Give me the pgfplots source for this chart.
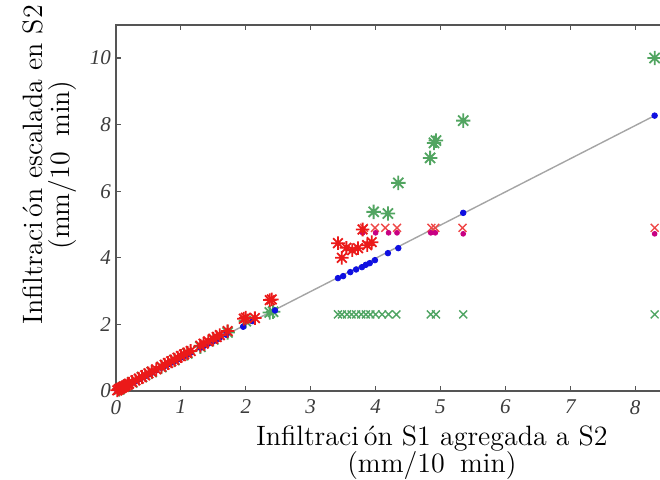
\documentclass[border=0pt]{standalone}
\usepackage{fontspec}
\usepackage{pgfplots}
\pgfplotsset{compat=1.18}
\newfontfamily\tickfont{Liberation Serif}
\definecolor{axgray}{RGB}{85,85,85}
\definecolor{tgray}{RGB}{60,60,60}
\definecolor{lgray}{RGB}{165,165,165}
\definecolor{mblue}{RGB}{15,15,225}
\definecolor{mgreen}{RGB}{25,135,45}
\definecolor{lgreen}{RGB}{80,165,100}
\definecolor{mred}{RGB}{235,25,25}
\definecolor{mmag}{RGB}{200,0,130}
\newcommand\lblfontx{\fontsize{14}{13.4}\selectfont\lineskiplimit=-20pt\relax}
\newcommand\lblfonty{\fontsize{14}{13.4}\selectfont\lineskiplimit=-20pt\relax}
\pgfdeclareplotmark{ast8}{%
  \pgfpathmoveto{\pgfqpoint{-\pgfplotmarksize}{0pt}}\pgfpathlineto{\pgfqpoint{\pgfplotmarksize}{0pt}}%
  \pgfpathmoveto{\pgfqpoint{0pt}{-\pgfplotmarksize}}\pgfpathlineto{\pgfqpoint{0pt}{\pgfplotmarksize}}%
  \pgfpathmoveto{\pgfqpoint{-.707\pgfplotmarksize}{-.707\pgfplotmarksize}}\pgfpathlineto{\pgfqpoint{.707\pgfplotmarksize}{.707\pgfplotmarksize}}%
  \pgfpathmoveto{\pgfqpoint{-.707\pgfplotmarksize}{.707\pgfplotmarksize}}\pgfpathlineto{\pgfqpoint{.707\pgfplotmarksize}{-.707\pgfplotmarksize}}%
  \pgfusepathqstroke}

\pgfplotstableread{
x y
0.02 0.02
0.05 0.05
0.08 0.08
0.10 0.10
0.12 0.12
0.15 0.15
0.18 0.18
0.20 0.20
0.25 0.25
0.30 0.30
0.35 0.35
0.40 0.40
0.45 0.45
0.50 0.50
0.55 0.55
0.62 0.62
0.70 0.70
0.75 0.75
0.80 0.80
0.85 0.85
0.90 0.90
0.95 0.95
1.00 1.00
1.05 1.05
1.10 1.10
1.15 1.15
1.30 1.30
1.35 1.35
1.42 1.42
1.50 1.50
1.55 1.55
1.60 1.60
1.70 1.69
1.96 1.93
2.10 2.10
2.45 2.42
3.42 3.39
3.50 3.45
3.61 3.57
3.70 3.65
3.79 3.72
3.85 3.79
3.91 3.84
3.99 3.93
4.19 4.14
4.35 4.29
5.35 5.35
8.30 8.27
}\tblblue

\pgfplotstableread{
x y
0.05 0.05
0.12 0.13
0.25 0.26
0.40 0.42
0.55 0.57
0.70 0.72
0.90 0.93
1.10 1.13
1.30 1.33
1.50 1.55
1.72 1.76
2.00 2.10
2.37 2.36
2.42 2.38
3.97 5.38
4.19 5.33
4.35 6.25
4.84 7.00
4.90 7.45
4.93 7.52
5.35 8.12
8.30 10.00
}\tblgstar

\pgfplotstableread{
x y
3.42 2.30
3.48 2.30
3.56 2.30
3.63 2.30
3.70 2.30
3.78 2.30
3.85 2.30
3.92 2.30
4.00 2.30
4.10 2.30
4.20 2.30
4.32 2.30
4.85 2.30
4.93 2.30
5.35 2.30
8.30 2.30
}\tblgx

\pgfplotstableread{
x y
3.80 4.75
4.00 4.75
4.20 4.75
4.33 4.75
4.85 4.75
4.92 4.75
5.35 4.72
8.30 4.72
}\tblmag

\pgfplotstableread{
x y
3.82 4.90
3.99 4.90
4.15 4.90
4.33 4.90
4.86 4.90
4.92 4.90
5.34 4.90
8.30 4.90
}\tblrx

\pgfplotstableread{
x y
0.02 0.02
0.04 0.05
0.06 0.07
0.08 0.09
0.10 0.11
0.12 0.13
0.15 0.16
0.18 0.19
0.20 0.22
0.25 0.27
0.30 0.32
0.35 0.37
0.40 0.42
0.45 0.47
0.50 0.53
0.55 0.58
0.62 0.65
0.70 0.73
0.75 0.79
0.80 0.84
0.85 0.89
0.90 0.94
0.95 1.00
1.00 1.05
1.05 1.10
1.10 1.15
1.15 1.20
1.30 1.36
1.35 1.42
1.42 1.49
1.50 1.57
1.55 1.62
1.60 1.68
1.72 1.80
1.97 2.17
2.00 2.20
2.14 2.19
2.37 2.73
2.40 2.75
3.42 4.44
3.48 4.00
3.55 4.30
3.64 4.23
3.73 4.29
3.80 4.85
3.87 4.38
3.94 4.47
}\tblrstar

\begin{document}
\begin{tikzpicture}
\path[use as bounding box] (-58pt,-44pt) rectangle (272pt,195.5pt);
\clip (-58pt,-44pt) rectangle (272pt,195.5pt);
\begin{axis}[
  at={(0pt,0pt)}, anchor=south west,
  scale only axis, width=279.07pt, height=183.15pt,
  xmin=0, xmax=8.6, ymin=0, ymax=11,
  xtick={0,1,...,8}, ytick={0,2,...,10},
  tick align=inside, xtick pos=both, ytick pos=left,
  major tick length=2.5pt,
  axis line style={draw=axgray, line width=0.8pt},
  every tick/.style={draw=axgray, line width=0.6pt},
  /pgf/number format/assume math mode=true,
  ticklabel style={font=\tickfont\itshape\fontsize{10.5}{10.5}\selectfont, text=tgray},
  xticklabel style={yshift=-1pt},
  yticklabel style={xshift=1pt},
  clip=false,
  xlabel={Infiltraci\kern2.5pt ón S1 agregada a S2\\(mm/10\hspace{0.55em}min)},
  ylabel={Infiltraci\kern2.5pt ón escalada en S2\\(mm/10\hspace{0.55em}min)},
  xlabel style={at={(axis description cs:0.566,-0.077)}, anchor=north, align=center, font=\lblfontx},
  ylabel style={at={(axis description cs:-0.1183,0.617)}, anchor=center, align=center, font=\lblfonty},
]
\addplot[lgray, line width=0.7pt] coordinates {(0,0) (8.3,8.27)};
\addplot[only marks, mark=x, mark size=2.8pt, draw=lgreen, line width=0.7pt] table {\tblgx};
\addplot[only marks, mark=ast8, mark size=3.6pt, draw=mgreen!75!white, line width=0.9pt] table {\tblgstar};
\addplot[only marks, mark=*, mark size=1.4pt, draw=mblue, fill=mblue] table {\tblblue};
\addplot[only marks, mark=x, mark size=2.8pt, draw=mred!80!white, line width=0.7pt] table {\tblrx};
\addplot[only marks, mark=*, mark size=1.2pt, draw=mmag, fill=mmag] table {\tblmag};
\addplot[only marks, mark=ast8, mark size=3.4pt, draw=mred, line width=0.9pt] table {\tblrstar};
\end{axis}
\end{tikzpicture}
\end{document}
